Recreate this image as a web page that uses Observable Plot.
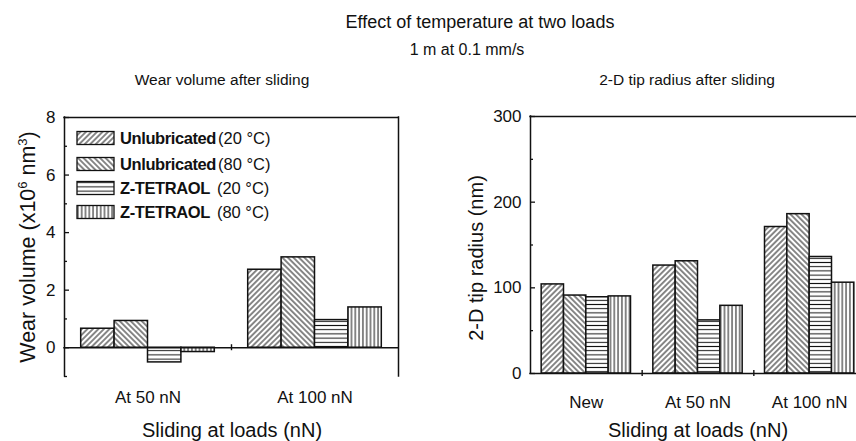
<!DOCTYPE html>
<html>
<head>
<meta charset="utf-8">
<script src="https://cdn.jsdelivr.net/npm/d3@7"></script>
<script src="https://cdn.jsdelivr.net/npm/@observablehq/plot@0.6"></script>
<style>
  html, body { margin: 0; padding: 0; background: #fff; }
  #fig { position: relative; width: 856px; height: 441px; overflow: hidden; background: #fff;
         font-family: "Liberation Sans", Arial, sans-serif; color: #111; }
  #fig > svg { position: absolute; top: 0; }
</style>
</head>
<body>
<div id="fig"></div>
<script>
// Load levels on the two horizontal axes
const wearLoads = ["At 50 nN", "At 100 nN"];
const tipLoads = ["New", "At 50 nN", "At 100 nN"];

// Lubrication conditions, in legend order
const conditionNames = ["Unlubricated", "Unlubricated", "Z-TETRAOL", "Z-TETRAOL"];
const conditionTemps = ["(20 °C)", "(80 °C)", "(20 °C)", "(80 °C)"];

// Wear volume after sliding (x10^6 nm^3)
const wearUnlub20 = [0.66, 2.71];
const wearUnlub80 = [0.93, 3.14];
const wearZtet20 = [-0.51, 0.96];
const wearZtet80 = [-0.15, 1.40];

// 2-D tip radius after sliding (nm)
const tipUnlub20 = [104, 126, 171];
const tipUnlub80 = [91, 131, 186];
const tipZtet20 = [89, 62, 136];
const tipZtet80 = [90, 79, 106];

// Axis ticks
const wearTicks = [0, 2, 4, 6, 8];
const wearMinor = [-1, 1, 3, 5, 7];
const tipTicks = [0, 100, 200, 300];
const tipMinor = [50, 150, 250];

const INK = "#111";
const fig = d3.select("#fig");

// Hatch fills: "/" , "\" , horizontal, vertical
const hatches = [
  {rotate: 45, size: 3.9},
  {rotate: -45, size: 3.9},
  {rotate: 90, size: 4.2},
  {rotate: 0, size: 3.8}
];

const overlay = fig.append("svg")
  .attr("width", 856).attr("height", 441)
  .style("left", "0px").style("pointer-events", "none");

const defs = overlay.append("defs");
hatches.forEach((h, k) => {
  const p = defs.append("pattern")
    .attr("id", `hatch-${k}`)
    .attr("patternUnits", "userSpaceOnUse")
    .attr("width", h.size).attr("height", h.size)
    .attr("patternTransform", `rotate(${h.rotate})`);
  p.append("rect").attr("width", h.size).attr("height", h.size).attr("fill", "#fff");
  p.append("line")
    .attr("x1", h.size / 2).attr("x2", h.size / 2)
    .attr("y1", -1).attr("y2", h.size + 1)
    .attr("stroke", INK).attr("stroke-width", 1);
});

function panel({loads, series, ticks, minor, yDomain, width, height, margin, tickPadX}) {
  const rows = [];
  series.forEach((vals, k) => vals.forEach((v, i) => rows.push({g: i + 1, k, v})));
  const n = series.length;
  const bw = 0.8 / n;
  const xDomain = [0.5, loads.length + 0.5];
  const gaps = d3.range(1.5, loads.length, 1);
  const frame = {stroke: INK, strokeWidth: 1.5, strokeLinecap: "square"};
  return Plot.plot({
    width, height,
    marginTop: margin[0], marginRight: margin[1], marginBottom: margin[2], marginLeft: margin[3],
    style: {fontFamily: '"Liberation Sans", Arial, sans-serif', fontSize: "17px", color: INK,
            background: "transparent", overflow: "visible"},
    x: {domain: xDomain, ticks: d3.range(1, loads.length + 1), tickFormat: i => loads[i - 1],
        tickSize: 0, tickPadding: tickPadX, label: null},
    y: {domain: yDomain, ticks, tickSize: 0, tickPadding: 9, label: null},
    marks: [
      ...series.map((_, k) => Plot.rectY(rows.filter(d => d.k === k), {
        x1: d => d.g - 0.4 + bw * d.k,
        x2: d => d.g - 0.4 + bw * (d.k + 1),
        y1: 0, y2: "v",
        fill: `url(#hatch-${k})`, stroke: INK, strokeWidth: 1.5
      })),
      Plot.ruleY([0], {x1: xDomain[0], x2: xDomain[1], ...frame}),
      Plot.ruleY([yDomain[1]], {x1: xDomain[0], x2: xDomain[1], ...frame}),
      Plot.ruleX(xDomain, {y1: yDomain[0], y2: yDomain[1], ...frame}),
      Plot.ruleY(ticks, {x1: xDomain[0], x2: xDomain[0], insetRight: -5, stroke: INK, strokeWidth: 1.3}),
      Plot.ruleY(minor, {x1: xDomain[0], x2: xDomain[0], insetRight: -3, stroke: INK, strokeWidth: 1.3}),
      Plot.ruleX(gaps, {y1: 0, y2: 0, insetTop: -3, insetBottom: -3, stroke: INK, strokeWidth: 1.4})
    ]
  });
}

const wearPlot = panel({
  loads: wearLoads,
  series: [wearUnlub20, wearUnlub80, wearZtet20, wearZtet80],
  ticks: wearTicks, minor: wearMinor, yDomain: [-1, 8],
  width: 430, height: 441, margin: [117, 32, 65, 64], tickPadX: 14
});
const tipPlot = panel({
  loads: tipLoads,
  series: [tipUnlub20, tipUnlub80, tipZtet20, tipZtet80],
  ticks: tipTicks, minor: tipMinor, yDomain: [0, 300],
  width: 460, height: 441, margin: [116, 25, 68, 100], tickPadX: 22
});

const figNode = document.getElementById("fig");
wearPlot.style.left = "0px";
tipPlot.style.left = "430px";
figNode.insertBefore(tipPlot, overlay.node());
figNode.insertBefore(wearPlot, tipPlot);

// Titles, axis titles and legend
const txt = overlay.append("g")
  .attr("font-family", '"Liberation Sans", Arial, sans-serif')
  .attr("fill", INK);

txt.append("text").attr("x", 480).attr("y", 28).attr("text-anchor", "middle")
  .attr("font-size", 18).text("Effect of temperature at two loads");
txt.append("text").attr("x", 467).attr("y", 55).attr("text-anchor", "middle")
  .attr("font-size", 16).text("1 m at 0.1 mm/s");
txt.append("text").attr("x", 222).attr("y", 85).attr("text-anchor", "middle")
  .attr("font-size", 15.5).text("Wear volume after sliding");
txt.append("text").attr("x", 687).attr("y", 85).attr("text-anchor", "middle")
  .attr("font-size", 15.5).text("2-D tip radius after sliding");

// Horizontal axis titles
txt.append("text").attr("x", 232).attr("y", 437).attr("text-anchor", "middle")
  .attr("font-size", 20).text("Sliding at loads (nN)");
txt.append("text").attr("x", 698).attr("y", 437).attr("text-anchor", "middle")
  .attr("font-size", 20).text("Sliding at loads (nN)");

// Vertical axis titles
const yl = txt.append("text").attr("transform", "translate(35,247) rotate(-90)")
  .attr("text-anchor", "middle").attr("font-size", 21.5);
yl.append("tspan").text("Wear volume (x10");
yl.append("tspan").attr("font-size", 13).attr("dy", -8).text("6");
yl.append("tspan").attr("dy", 8).text(" nm");
yl.append("tspan").attr("font-size", 13).attr("dy", -8).text("3");
yl.append("tspan").attr("dy", 8).text(")");

txt.append("text").attr("transform", "translate(483,258) rotate(-90)")
  .attr("text-anchor", "middle").attr("font-size", 20).text("2-D tip radius (nm)");

// Legend inside the wear panel
const legendRows = [138, 164, 188, 212];
conditionNames.forEach((name, k) => {
  const cy = legendRows[k];
  overlay.append("rect")
    .attr("x", 77).attr("y", cy - 6.5).attr("width", 37).attr("height", 13)
    .attr("fill", `url(#hatch-${k})`).attr("stroke", INK).attr("stroke-width", 1.3);
  const t = txt.append("text").attr("x", 120).attr("y", cy + 6).attr("font-size", 16.5);
  t.append("tspan").attr("font-weight", "bold").attr("letter-spacing", -0.4).text(name);
  t.append("tspan").attr("dx", name === "Unlubricated" ? 2 : 7).text(conditionTemps[k]);
});
</script>
</body>
</html>
